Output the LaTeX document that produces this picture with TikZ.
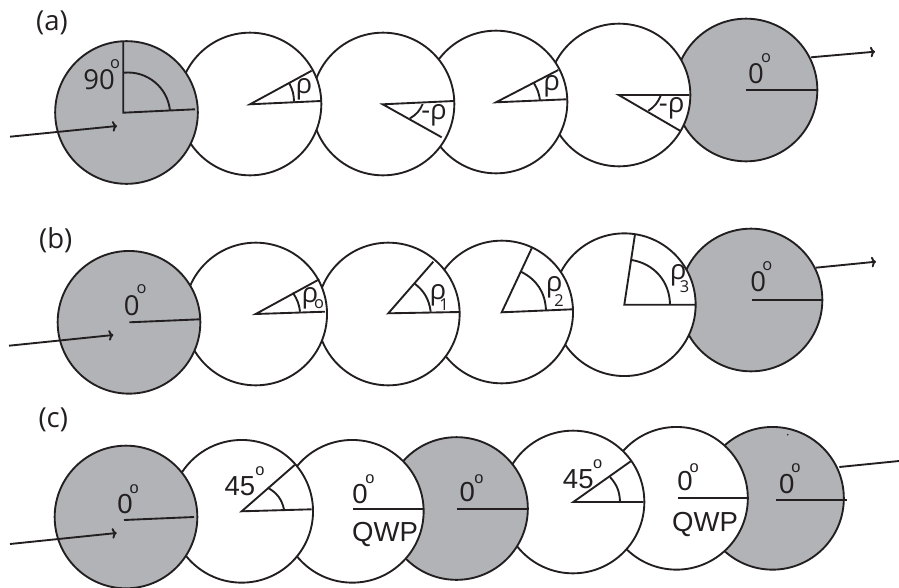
\documentclass[tikz,border=0pt]{standalone}
\usepackage{fontspec}
\usetikzlibrary{arrows.meta}
\setmainfont{Open Sans}
\newfontfamily\arialfont{Liberation Sans}
\definecolor{mgray}{HTML}{B1B3B6}
\definecolor{mink}{HTML}{231F20}
\tikzset{plate/.style = {draw=mink, circle, line width=1.6pt, inner sep=0, outer sep=0, minimum size=4.28cm}}
\tikzset{polarizer/.style = {plate, fill=mgray}}
\tikzset{waveplate/.style = {plate, fill=white}}
\tikzset{spoke/.style = {draw=mink, line width=1.6pt}}
\tikzset{ray/.style = {spoke, -{To[length=4pt, width=9pt]}}}
\tikzset{lab/.style = {text=mink, inner sep=0, font=\fontsize{23.5}{23.5}\selectfont}}
\tikzset{labc/.style = {text=mink, inner sep=0, font=\arialfont\fontsize{23.5}{23.5}\selectfont}}
\tikzset{tiny/.style = {text=mink, inner sep=0, font=\fontsize{14}{14}\selectfont}}
\tikzset{tinyc/.style = {text=mink, inner sep=0, font=\arialfont\fontsize{14}{14}\selectfont}}

\begin{document}
\begin{tikzpicture}[x=0.03cm, y=-0.03cm]
    \useasboundingbox (0, 0) rectangle (899, 587);
    % plates, last one first
    \foreach \n/\cx/\cy/\s in {a6/746/90/polarizer, a5/619/95/waveplate, a4/496/102/waveplate,
        a3/383/104/waveplate, a2/250/104/waveplate, a1/126.5/112.5/polarizer,
        b6/751/300/polarizer, b5/624.3/304.7/waveplate, b4/501.7/312/waveplate,
        b3/388.3/314/waveplate, b2/255.7/314/waveplate, b1/129/322.3/polarizer,
        c7/772.5/498.3/polarizer, c6/676.5/498.3/waveplate, c5/573/502/waveplate,
        c4/456.5/508.5/polarizer, c3/352.3/511.3/waveplate, c2/241.7/511.3/waveplate,
        c1/126/517/polarizer} {
      \node [\s] (\n) at (\cx, \cy) {};
    }

    % row a
    \foreach \n/\cx/\cy in {a1o/123.3/112.7, a1t/123.3/41, a1r/195/109.3, a1s/124/72.7, a1e/170/110.7,
        a2o/250/104.3, a2t/311.7/70.7, a2r/321/101, a2s/289.3/83.3, a2e/294/101.7,
        a3o/382.7/104.3, a3t/454/101, a3r/441.7/137.3, a3s/422.7/104, a3e/410/118.3,
        a4o/496/102.3, a4t/558.3/70, a4r/566.7/99.3, a4s/533.3/82.3, a4e/540/100.7,
        a5o/618.7/95, a5t/689.3/95, a5r/680/130.7, a5s/660.7/95.5, a5e/648.3/110.7,
        a6o/746/90.3, a6r/816.7/90.3,
        a0i/10/136.7, a0j/117/126, a0k/811/57.3, a0l/875/51.7} {
      \coordinate (\n) at (\cx, \cy);
    }
    \foreach \i in {1,2,3,4,5} {
      \draw [spoke] (a\i t) -- (a\i o) -- (a\i r);
    }
    \draw [spoke] (a1s) to [bend left=45] (a1e);
    \draw [spoke] (a2s) to [bend left=13] (a2e);
    \draw [spoke] (a3s) to [bend left=18] (a3e);
    \draw [spoke] (a4s) to [bend left=13] (a4e);
    \draw [spoke] (a5s) to [bend left=18] (a5e);
    \draw [spoke] (a6o) -- (a6r);
    \draw [ray] (a0i) -- (a0j);
    \draw [ray] (a0k) -- (a0l);
    \node [lab] (alab) at (52, 23.3) {(a)};
    \node [lab] (a1d) at (99, 80) {90};
    \node [tiny] (a1g) at (115, 64.5) {o};
    \node [lab] (a2l) at (304, 89) {ρ};
    \node [lab] (a3l) at (434, 115) {-ρ};
    \node [lab] (a4l) at (551.7, 86) {ρ};
    \node [lab] (a5l) at (671.7, 108) {-ρ};
    \node [lab] (a6d) at (756, 74) {0};
    \node [tiny] (a6g) at (766, 58.5) {o};

    % row b
    \foreach \n/\cx/\cy in {b1o/129.3/322.3, b1r/200/319.3,
        b2o/255.7/314, b2t/319.3/279.3, b2r/325/311.7, b2s/292.7/292.7, b2e/300/311.7,
        b3o/388.3/313.3, b3t/433.3/261.7, b3r/460/312, b3s/414.3/283.3, b3e/430.7/311.7,
        b4o/501.7/312.3, b4t/531.7/248.3, b4r/572.7/309.3, b4s/521/271.7, b4e/546/310,
        b5o/624.3/304.7, b5t/635/234.3, b5r/695/304.7, b5s/631.7/260, b5e/670/304.7,
        b6o/751.7/300, b6r/821.7/300,
        b0i/9/345.7, b0j/113.3/335, b0k/815.7/267.7, b0l/876/261.7} {
      \coordinate (\n) at (\cx, \cy);
    }
    \foreach \i in {2,3,4,5} {
      \draw [spoke] (b\i t) -- (b\i o) -- (b\i r);
    }
    \draw [spoke] (b2s) to [bend left=14] (b2e);
    \draw [spoke] (b3s) to [bend left=22] (b3e);
    \draw [spoke] (b4s) to [bend left=30] (b4e);
    \draw [spoke] (b5s) to [bend left=40] (b5e);
    \draw [spoke] (b1o) -- (b1r);
    \draw [spoke] (b6o) -- (b6r);
    \draw [ray] (b0i) -- (b0j);
    \draw [ray] (b0k) -- (b0l);
    \node [lab] (blab) at (55.7, 240) {(b)};
    \node [lab] (b1d) at (131.7, 306) {0};
    \node [tiny] (b1g) at (141.7, 289.5) {o};
    \node [lab] (b2l) at (310, 298) {ρ};
    \node [tiny] (b2u) at (319, 304.5) {o};
    \node [lab] (b3l) at (438, 295) {ρ};
    \node [tiny] (b3u) at (444, 305) {1};
    \node [lab] (b4l) at (554.3, 287) {ρ};
    \node [tiny] (b4u) at (559, 301) {2};
    \node [lab] (b5l) at (678.3, 275) {ρ};
    \node [tiny] (b5u) at (684.5, 286.5) {3};
    \node [lab] (b6d) at (758.3, 281.7) {0};
    \node [tiny] (b6g) at (767.3, 266.5) {o};

    % row c
    \foreach \n/\cx/\cy in {c1o/124/520, c1r/194/517,
        c2o/241.7/511.3, c2t/295/464.7, c2r/311.7/509.3, c2s/267.7/487.7, c2e/284/509.3,
        c3o/353.3/508.7, c3r/423.3/508.7,
        c4o/456.7/508.7, c4r/527.3/508.7,
        c5o/573.3/502, c5t/630.7/461.3, c5r/643.3/502, c5s/610/477, c5e/620/502,
        c6o/678.3/497.7, c6r/747.3/497.7,
        c7o/776/500.3, c7r/846.7/500.3,
        c0i/10/544, c0j/116.7/533, c0k/839.3/467, c0l/899/461} {
      \coordinate (\n) at (\cx, \cy);
    }
    \draw [spoke] (c2t) -- (c2o) -- (c2r);
    \draw [spoke] (c5t) -- (c5o) -- (c5r);
    \draw [spoke] (c2s) to [bend left=24] (c2e);
    \draw [spoke] (c5s) to [bend left=20] (c5e);
    \foreach \i in {1,3,4,6,7} {
      \draw [spoke] (c\i o) -- (c\i r);
    }
    \draw [ray] (c0i) -- (c0j);
    \draw [spoke] (c0k) -- (c0l);
    \node [lab] (clab) at (53.3, 420) {(c)};
    \node [labc] (c1d) at (125, 503.7) {0};
    \node [tinyc] (c1g) at (134.3, 489) {o};
    \node [labc] (c2d) at (240, 486.3) {45};
    \node [tinyc] (c2g) at (260, 471) {o};
    \node [labc] (c3d) at (360, 493.7) {0};
    \node [tinyc] (c3g) at (370, 479) {o};
    \node [labc] (c3q) at (385, 534) {QWP};
    \node [labc] (c4d) at (467.3, 492) {0};
    \node [tinyc] (c4g) at (479, 479) {o};
    \node [labc] (c5d) at (578.3, 478.7) {45};
    \node [tinyc] (c5g) at (597.7, 464) {o};
    \node [labc] (c6d) at (685, 481) {0};
    \node [tinyc] (c6g) at (694.3, 468) {o};
    \node [labc] (c6q) at (705, 524) {QWP};
    \node [labc] (c7d) at (786.7, 484.3) {0};
    \node [tinyc] (c7g) at (796, 468) {o};
    \fill [mink] (787.7, 434.7) circle (0.9);
\end{tikzpicture}
\end{document}
